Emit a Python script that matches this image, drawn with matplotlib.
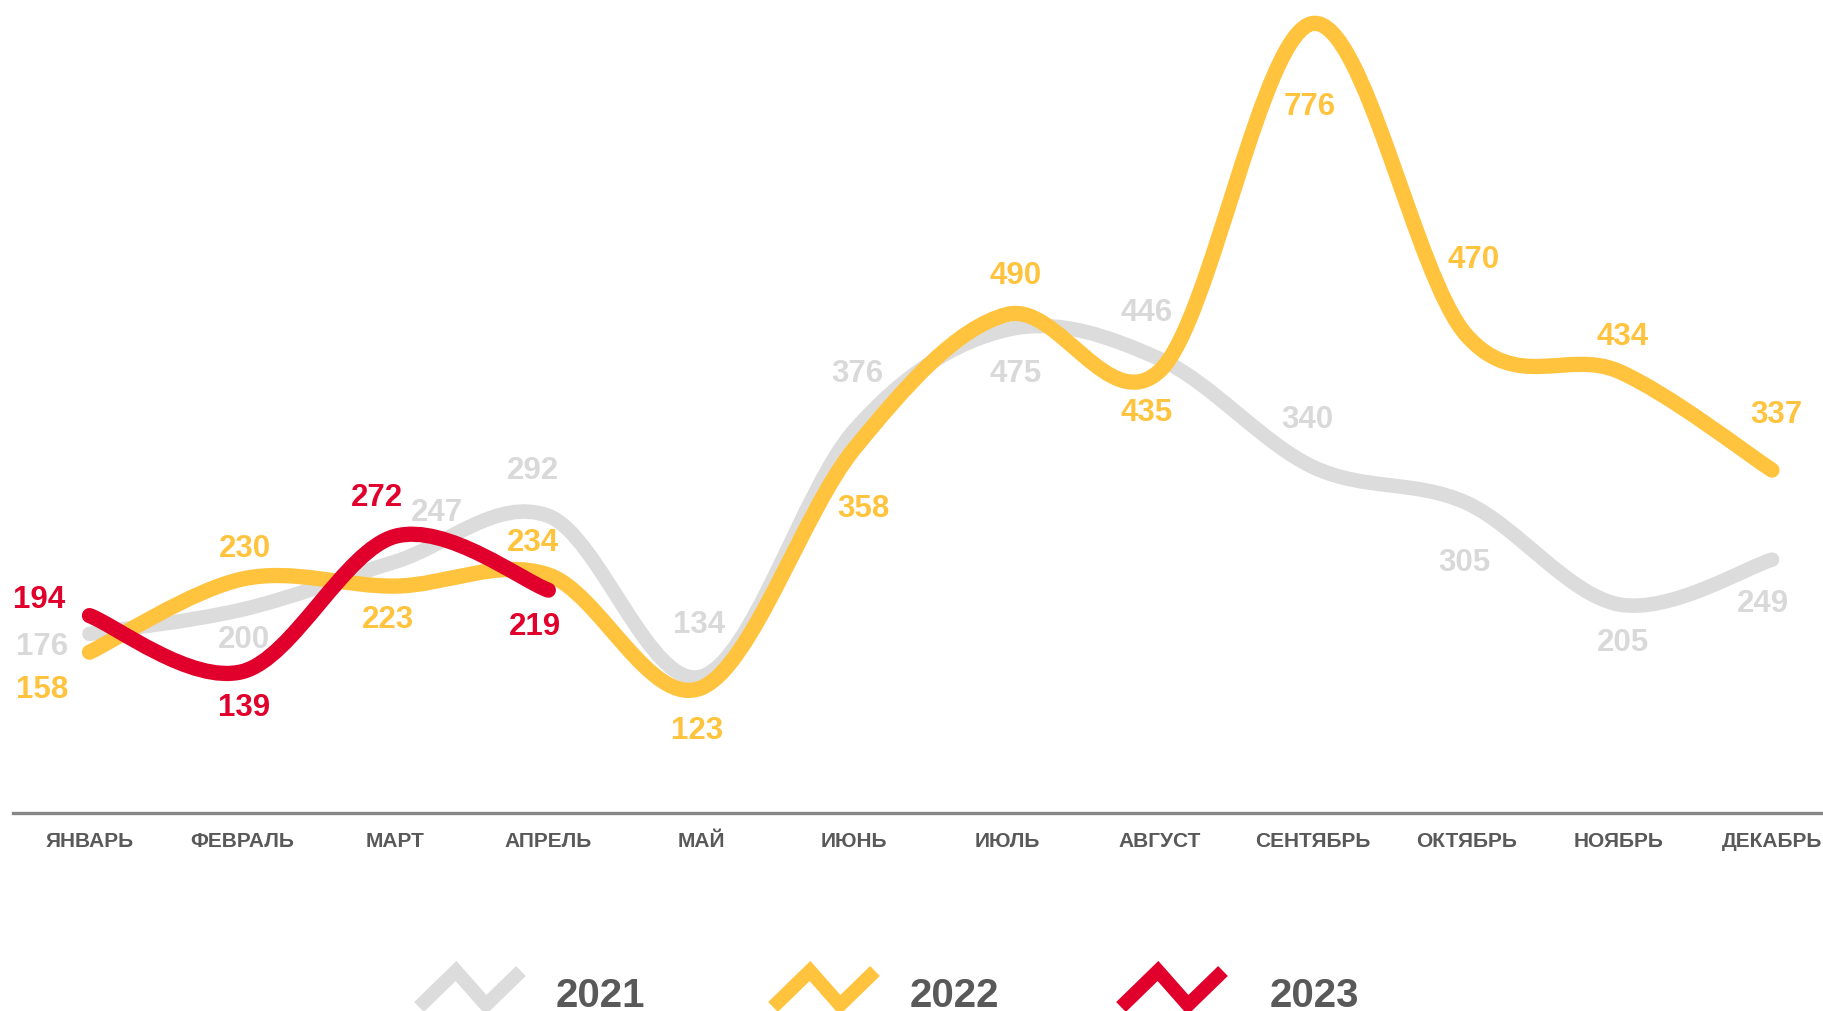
import numpy as np
import matplotlib.pyplot as plt
from matplotlib.path import Path
from matplotlib.patches import PathPatch
from matplotlib.lines import Line2D

plt.rcParams['font.family'] = ['Liberation Sans', 'DejaVu Sans']

# данные
months = ['ЯНВАРЬ', 'ФЕВРАЛЬ', 'МАРТ', 'АПРЕЛЬ', 'МАЙ', 'ИЮНЬ', 'ИЮЛЬ',
          'АВГУСТ', 'СЕНТЯБРЬ', 'ОКТЯБРЬ', 'НОЯБРЬ', 'ДЕКАБРЬ']
years = ['2021', '2022', '2023']
v2021 = [176, 200, 247, 292, 134, 376, 475, 446, 340, 305, 205, 249]
v2022 = [158, 230, 223, 234, 123, 358, 490, 435, 776, 470, 434, 337]
v2023 = [194, 139, 272, 219]

# смещения подписей (пиксели: вправо, вниз)
off2021 = [(-47, 12), (2, 29), (42, -50), (-15, -46), (-2, -53), (3, -57),
           (8, 43), (-14, -47), (-6, -48), (-2, 59), (4, 38), (-9, 43)]
off2022 = [(-47, 37), (3, -31), (-7, 33), (-15, -33), (-4, 42), (9, 59),
           (8, -39), (-14, 42), (-3, 83), (7, -76), (4, -35), (4, -56)]
off2023 = [(-50, -17), (2, 35), (-18, -39), (-13, 36)]

gray = '#DCDCDC'
gray_txt = '#D9D9D9'
yellow = '#FFC33D'
red = '#E1002B'
dark = '#595959'


def smooth_path(values):
    # кривая Безье через точки (как сглаженная линия в Excel)
    x = np.arange(len(values), dtype=float)
    y = np.array(values, dtype=float)
    pts = np.column_stack([x, y])
    verts = [pts[0]]
    codes = [Path.MOVETO]
    n = len(pts)
    for i in range(n - 1):
        p0 = pts[i - 1] if i > 0 else pts[i]
        p1 = pts[i]
        p2 = pts[i + 1]
        p3 = pts[i + 2] if i + 2 < n else pts[i + 1]
        c1 = p1 + (p2 - p0) / 6
        c2 = p2 - (p3 - p1) / 6
        verts += [c1, c2, p2]
        codes += [Path.CURVE4] * 3
    return Path(verts, codes)


fig = plt.figure(figsize=(18.24, 10.12), dpi=100)
ax = fig.add_axes([13 / 1824, 1 - 814 / 1012, 1 - 13 / 1824, 814 / 1012])
ax.set_xlim(-0.5, 11.34)
ax.set_ylim(0, 800)

series = [(v2021, gray, gray_txt, off2021, 10.5),
          (v2022, yellow, yellow, off2022, 11),
          (v2023, red, red, off2023, 11)]

for k, (vals, col, tcol, offs, lw) in enumerate(series):
    patch = PathPatch(smooth_path(vals), fill=False, edgecolor=col, lw=lw,
                      capstyle='round', joinstyle='round',
                      transform=ax.transData, clip_on=False, zorder=2 + k)
    ax.add_patch(patch)

for k, (vals, col, tcol, offs, lw) in enumerate(series):
    for i, v in enumerate(vals):
        dx, dy = offs[i]
        ax.annotate(str(v), (i, v), xytext=(dx, -dy), textcoords='offset pixels',
                    ha='center', va='center', color=tcol, fontsize=22.5,
                    fontweight='bold', zorder=10 + k, annotation_clip=False)

for s in ['top', 'right', 'left']:
    ax.spines[s].set_visible(False)
ax.spines['bottom'].set_color('#878787')
ax.spines['bottom'].set_linewidth(2.4)
ax.set_yticks([])
ax.set_xticks(range(len(months)))
ax.set_xticklabels(months, fontsize=15, fontweight='bold', color=dark)
ax.tick_params(axis='x', length=0, pad=13)

# легенда
W, H = 1824, 1012
icons = [(419, gray), (773, yellow), (1121, red)]
text_x = [556, 910, 1270]
for (x0, col), tx, lab in zip(icons, text_x, years):
    zx = np.array([x0, x0 + 37, x0 + 67, x0 + 102]) / W
    zy = 1 - np.array([1008, 972, 1006, 972]) / H
    fig.add_artist(Line2D(zx, zy, color=col, lw=10, solid_joinstyle='miter',
                          solid_capstyle='butt'))
    fig.text(tx / W, (H - 1007) / H, lab, ha='left', va='baseline',
             fontsize=29, fontweight='bold', color=dark)

fig.savefig('out.png', dpi=100)
